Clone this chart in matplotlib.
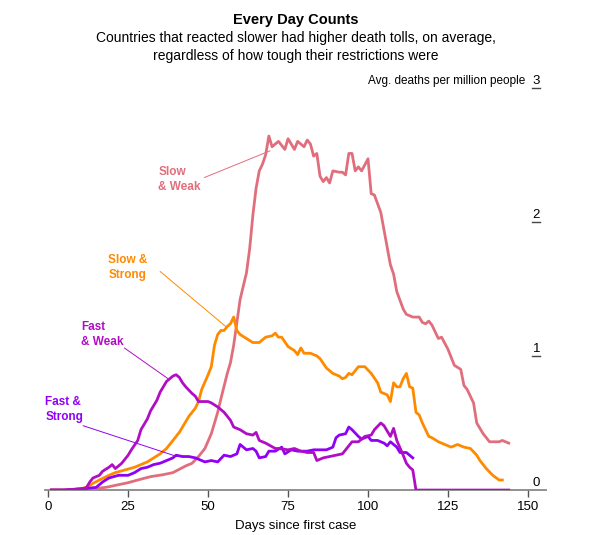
import matplotlib.pyplot as plt

plt.rcParams['font.family'] = ['Liberation Sans', 'DejaVu Sans']

# Slow & Weak
dias_sw = [1, 5, 10, 14, 18, 21, 25, 28, 32, 36, 39, 43, 45, 47, 49, 51, 53, 54, 56, 57,
           58, 59, 60, 61, 62, 63, 64, 65, 66, 67, 68, 69, 70, 72, 74, 75, 77, 78, 80, 81,
           82, 83, 84, 85, 86, 87, 88, 89, 91, 92, 93, 94, 95, 96, 97, 98, 100, 101, 102, 104,
           105, 107, 108, 109, 111, 112, 114, 116, 117, 118, 119, 120, 122, 123, 125, 126, 127, 129, 130, 131,
           133, 134, 136, 138, 139, 141, 142, 144]
vals_sw = [0.0, 0.0, 0.005, 0.01, 0.02, 0.035, 0.055, 0.075, 0.1, 0.115, 0.13, 0.18, 0.2, 0.25, 0.31, 0.42, 0.58, 0.68, 0.87, 0.95,
           1.08, 1.25, 1.42, 1.52, 1.62, 1.8, 2.05, 2.25, 2.38, 2.43, 2.5, 2.64, 2.56, 2.6, 2.54, 2.62, 2.54, 2.6, 2.56, 2.61,
           2.58, 2.49, 2.51, 2.34, 2.3, 2.33, 2.29, 2.38, 2.37, 2.37, 2.35, 2.51, 2.51, 2.38, 2.41, 2.38, 2.47, 2.21, 2.2, 2.07,
           1.94, 1.68, 1.61, 1.48, 1.35, 1.31, 1.29, 1.29, 1.25, 1.24, 1.26, 1.23, 1.13, 1.14, 1.05, 0.99, 0.93, 0.9, 0.78, 0.75,
           0.65, 0.5, 0.42, 0.36, 0.36, 0.36, 0.37, 0.35]

# Slow & Strong
dias_ss = [1, 5, 10, 12, 14, 16, 19, 21, 24, 27, 31, 35, 37, 39, 41, 42, 44, 46, 47, 48,
           50, 51, 52, 53, 54, 55, 56, 57, 58, 59, 60, 62, 64, 66, 68, 70, 71, 72, 73, 75,
           77, 78, 79, 80, 82, 84, 85, 87, 89, 91, 92, 93, 94, 95, 97, 99, 101, 103, 104, 105,
           106, 107, 108, 109, 110, 111, 112, 113, 114, 115, 116, 117, 119, 120, 122, 124, 126, 128, 130, 132,
           134, 135, 137, 139, 141, 142]
vals_ss = [0.0, 0.0, 0.01, 0.02, 0.05, 0.075, 0.11, 0.13, 0.15, 0.17, 0.21, 0.27, 0.31, 0.37, 0.43, 0.47, 0.55, 0.61, 0.66, 0.75,
           0.86, 0.92, 1.08, 1.16, 1.19, 1.19, 1.22, 1.24, 1.29, 1.19, 1.16, 1.13, 1.1, 1.1, 1.14, 1.15, 1.17, 1.14, 1.14, 1.07,
           1.04, 1.01, 1.06, 1.02, 1.02, 1.0, 0.98, 0.91, 0.87, 0.85, 0.83, 0.84, 0.87, 0.86, 0.92, 0.92, 0.87, 0.8, 0.73, 0.72,
           0.71, 0.66, 0.8, 0.77, 0.77, 0.83, 0.87, 0.77, 0.76, 0.58, 0.56, 0.5, 0.4, 0.39, 0.36, 0.34, 0.32, 0.34, 0.32, 0.31,
           0.26, 0.22, 0.16, 0.11, 0.075, 0.075]

# Fast & Weak
dias_fw = [1, 5, 8, 11, 12, 13, 14, 16, 17, 19, 20, 21, 23, 25, 26, 28, 29, 31, 32, 34,
           35, 37, 38, 39, 40, 41, 42, 43, 45, 46, 47, 48, 50, 51, 53, 55, 57, 58, 60, 62,
           64, 65, 66, 68, 71, 72, 75, 77, 79, 81, 83, 84, 86, 88, 90, 92, 94, 95, 97, 99,
           101, 102, 104, 105, 107, 108, 109, 111, 112, 113, 114, 115, 116, 130, 144]
vals_fw = [0.0, 0.0, 0.005, 0.01, 0.02, 0.06, 0.09, 0.11, 0.14, 0.17, 0.19, 0.16, 0.2, 0.26, 0.3, 0.37, 0.45, 0.53, 0.59, 0.67,
           0.73, 0.81, 0.83, 0.85, 0.86, 0.84, 0.8, 0.77, 0.72, 0.7, 0.66, 0.66, 0.66, 0.65, 0.62, 0.58, 0.52, 0.47, 0.45, 0.42,
           0.41, 0.43, 0.37, 0.35, 0.31, 0.31, 0.3, 0.31, 0.29, 0.28, 0.28, 0.22, 0.24, 0.25, 0.26, 0.27, 0.33, 0.36, 0.36, 0.4,
           0.41, 0.45, 0.5, 0.48, 0.4, 0.46, 0.37, 0.26, 0.2, 0.17, 0.15, 0.0, 0.0, 0.0, 0.0]

# Fast & Strong
dias_fs = [1, 5, 11, 15, 17, 19, 22, 25, 27, 29, 31, 33, 35, 37, 39, 40, 42, 44, 46, 47,
           49, 51, 53, 55, 57, 59, 60, 62, 64, 65, 66, 68, 69, 71, 73, 74, 76, 78, 81, 83,
           85, 87, 89, 90, 91, 93, 94, 95, 97, 98, 100, 101, 103, 105, 106, 107, 109, 110, 112, 114]
vals_fs = [0.0, 0.0, 0.01, 0.02, 0.06, 0.09, 0.11, 0.11, 0.13, 0.16, 0.17, 0.19, 0.2, 0.22, 0.24, 0.26, 0.25, 0.25, 0.24, 0.23,
           0.21, 0.22, 0.21, 0.26, 0.25, 0.27, 0.34, 0.3, 0.31, 0.29, 0.24, 0.25, 0.29, 0.29, 0.32, 0.27, 0.3, 0.29, 0.29, 0.3,
           0.3, 0.3, 0.32, 0.39, 0.41, 0.42, 0.47, 0.45, 0.4, 0.38, 0.4, 0.37, 0.37, 0.35, 0.33, 0.36, 0.32, 0.28, 0.28, 0.24]

x_ticks = [0, 25, 50, 75, 100, 125, 150]
y_ticks = [0, 1, 2, 3]

cor_sw = '#E06E7C'
cor_ss = '#FF8A00'
cor_fw = '#B00EC4'
cor_fs = '#9000F5'

fig = plt.figure(figsize=(5.92, 5.35), dpi=100)
ax = fig.add_axes([0.076, 0.084, 0.846, 0.752])

ax.plot(dias_sw, vals_sw, color=cor_sw, lw=2.0, solid_joinstyle='round', zorder=3)
ax.plot(dias_ss, vals_ss, color=cor_ss, lw=2.0, solid_joinstyle='round', zorder=3)
ax.plot(dias_fs, vals_fs, color=cor_fs, lw=2.0, solid_joinstyle='round', zorder=4)
ax.plot(dias_fw, vals_fw, color=cor_fw, lw=2.0, solid_joinstyle='round', zorder=5)

ax.set_xlim(-1, 155.6)
ax.set_ylim(0, 3)

for s in ['top', 'right', 'left']:
    ax.spines[s].set_visible(False)
ax.spines['bottom'].set_color('#888888')
ax.spines['bottom'].set_linewidth(1.3)
ax.spines['bottom'].set_zorder(2)

ax.set_xticks(x_ticks)
ax.tick_params(axis='x', length=5, width=1, color='#555555', labelsize=9.5, pad=3)
ax.set_yticks([])
ax.set_xlabel('Days since first case', fontsize=9.5, labelpad=5)

# rótulos do eixo y à direita, com tracinho embaixo
for v in y_ticks:
    ax.text(152.6, v + 0.005, str(v), ha='center', va='bottom', fontsize=9.5, clip_on=False)
    if v > 0:
        ax.plot([151.4, 153.9], [v, v], color='#444444', lw=1, clip_on=False)
ax.text(149.2, 3.005, 'Avg. deaths per million people', ha='right', va='bottom', fontsize=8.5, clip_on=False)

# rótulos das séries
rotulos = [
    ('Slow\n& Weak', cor_sw, (34.4, 2.42), (48.8, 2.33), (69.4, 2.53)),
    ('Slow &\nStrong', cor_ss, (18.8, 1.76), (35.0, 1.63), (55.5, 1.22)),
    ('Fast\n& Weak', cor_fw, (10.3, 1.26), (23.8, 1.06), (37.5, 0.83)),
    ('Fast &\nStrong', cor_fs, (-0.9, 0.70), (10.9, 0.48), (40.3, 0.25)),
]
for txt, cor, pos, ini, fim in rotulos:
    ax.text(pos[0], pos[1], txt, color=cor, fontsize=8.5, fontweight='bold',
            ha='left', va='top', linespacing=1.35)
    ax.annotate('', xy=fim, xytext=ini,
                arrowprops=dict(arrowstyle='-', color=cor, lw=0.7, shrinkA=0, shrinkB=0))

fig.text(0.5, 0.962, 'Every Day Counts', ha='center', va='center', fontsize=10.5, fontweight='bold')
fig.text(0.5, 0.912, 'Countries that reacted slower had higher death tolls, on average,\nregardless of how tough their restrictions were',
         ha='center', va='center', fontsize=10, linespacing=1.3)

plt.savefig('out.png', dpi=100)
